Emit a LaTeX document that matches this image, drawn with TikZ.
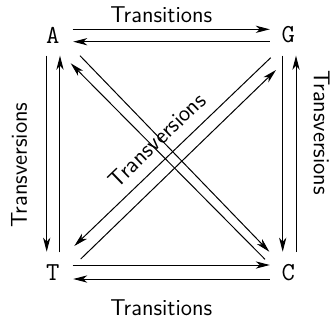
\documentclass[tikz,border=0pt]{standalone}
\usepackage{tikz}
\usetikzlibrary{arrows.meta, positioning}

\begin{document}
\begin{tikzpicture}[x=0.5bp, y=-0.5bp, >={Stealth[length=7bp, width=3.6bp, inset=2bp]},
  letter/.style={font=\ttfamily\fontsize{13}{15}\selectfont, inner sep=0pt, on grid},
  kind/.style={font=\sffamily\fontsize{11.5}{13}\selectfont, inner sep=0pt},
  every path/.style={line width=0.5bp}]
\useasboundingbox (0,0) rectangle (332,320);
\node[letter] (A) at (52.7,35) {A};
\node[letter, right=117.8bp of A] (G) {G};
\node[letter, below=118.75bp of A] (T) {T};
\node[letter, below=118.75bp of G] (C) {C};
% transitions
\draw[->] ([shift={(20,-5.7)}]A.center) -- ([shift={(-18.5,-5.7)}]G.center);
\draw[->] ([shift={(-18.5,6.7)}]G.center) -- ([shift={(20.5,6.7)}]A.center);
\draw[->] ([shift={(20,-7.5)}]T.center) -- ([shift={(-18.5,-7.5)}]C.center);
\draw[->] ([shift={(-18.5,6.5)}]C.center) -- ([shift={(20.5,6.5)}]T.center);
% transversions, sides
\draw[->] ([shift={(-6,20.7)}]A.center) -- ([shift={(-6,-20.8)}]T.center);
\draw[->] ([shift={(7.3,-20.2)}]T.center) -- ([shift={(7.3,20.7)}]A.center);
\draw[->] ([shift={(-5.6,20.7)}]G.center) -- ([shift={(-5.6,-20.8)}]C.center);
\draw[->] ([shift={(7.7,-20.5)}]C.center) -- ([shift={(7.7,20.7)}]G.center);
% transversions, diagonals
\draw[->] ([shift={(27.3,20.7)}]A.center) -- ([shift={(-19,-20.8)}]C.center);
\draw[->] ([shift={(-23.3,-13.2)}]C.center) -- ([shift={(18,28.3)}]A.center);
\draw[->] ([shift={(28,-13.5)}]T.center) -- ([shift={(-12.3,35)}]G.center);
\draw[->] ([shift={(-17.6,22.7)}]G.center) -- ([shift={(21.6,-26.5)}]T.center);
\node[kind] (tsTop) at (161.2,15) {Transitions};
\node[kind] (tsBot) at (161.2,308) {Transitions};
\node[kind, rotate=90] (tvLeft) at (19,165) {Transversions};
\node[kind, rotate=-90] (tvRight) at (321.7,132.5) {Transversions};
\node[kind, rotate=44] (tvDiag) at (157,140) {Transversions};
\end{tikzpicture}
\end{document}
